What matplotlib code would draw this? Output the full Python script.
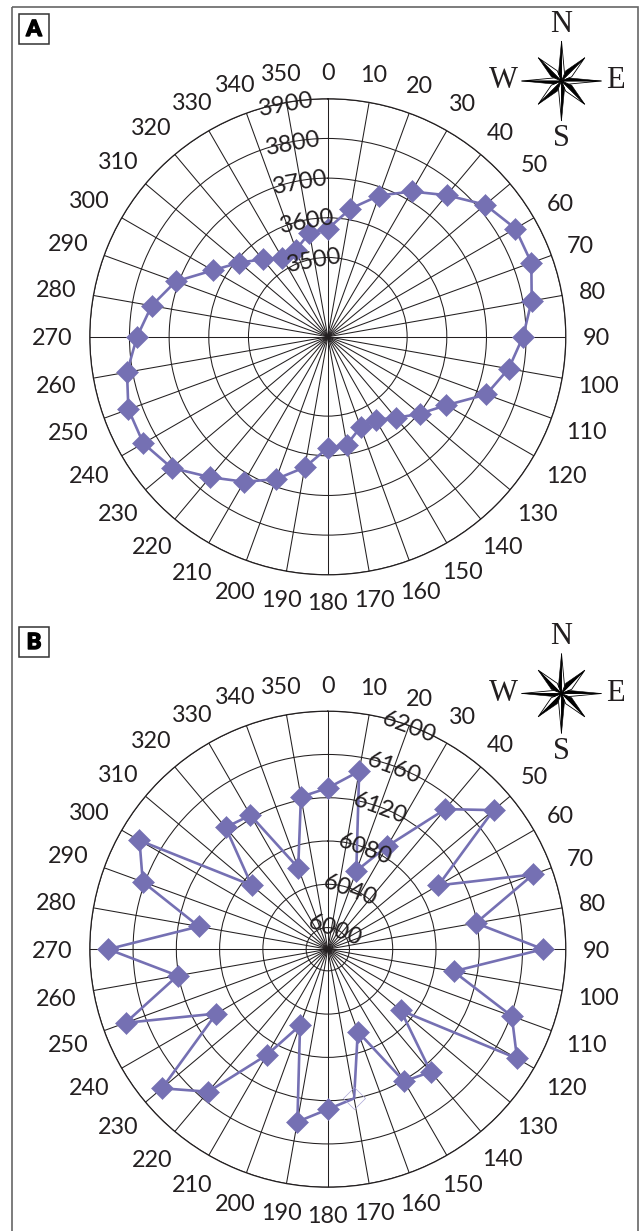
import numpy as np
import matplotlib
matplotlib.use("Agg")
import matplotlib.pyplot as plt
import matplotlib.patheffects as pe
from matplotlib.patches import Rectangle, Polygon
from matplotlib.transforms import offset_copy

W, H = 639, 1231
plt.rcParams['font.family'] = ['Lato', 'DejaVu Sans']

angles = list(range(0, 360, 10))
values_a = [3572, 3628, 3679, 3723, 3766, 3818, 3846, 3846, 3822, 3792, 3763, 3725,
            3645, 3602, 3567, 3541, 3542, 3576, 3580, 3634, 3682, 3722, 3762, 3814,
            3837, 3835, 3814, 3781, 3751, 3708, 3635, 3591, 3555, 3530, 3534, 3566]
values_b = [6129, 6147, 6057, 6090, 6149, 6180, 6098, 6182, 6119, 6179, 6098, 6161,
            6182, 6068, 6128, 6121, 6061, 6120, 6128, 6142, 6055, 6093, 6152, 6180,
            6099, 6179, 6121, 6183, 6101, 6162, 6181, 6072, 6127, 6123, 6060, 6123]
ticks_a = [3500, 3600, 3700, 3800, 3900]
ticks_b = [6000, 6040, 6080, 6120, 6160, 6200]
hollow_b = [170]

LINE = '#7570b3'
INK = '#231f20'
R_PX = 238.0
# distance of each angle label from the centre, in pixels
LABEL_R = [265, 267, 268, 270, 268, 270, 269, 269, 269, 269, 275, 275,
           275, 274, 272, 270, 270, 266, 265, 266, 270, 271, 273, 274,
           275, 276, 276, 276, 276, 276, 275, 274, 274, 272, 270, 268]

fig = plt.figure(figsize=(W / 100, H / 100), dpi=100, facecolor='white')

# page overlay in pixel coordinates: frame, panel letters, compass roses
page = fig.add_axes([0, 0, 1, 1], zorder=0)
page.set_xlim(0, W)
page.set_ylim(H, 0)
page.axis('off')
page.add_patch(Rectangle((11.5, 7), 626.5, 1240, fill=False, ec='#666666', lw=1.2))


def compass(cy):
    cx = 561.5
    for i in range(8):
        a = np.deg2rad(i * 45)
        major = i % 2 == 0
        tip = 40 if major else 33
        inner = 8 if major else 11
        px = lambda r, t: (cx + r * np.sin(t), cy - r * np.cos(t))
        d = np.deg2rad(22.5)
        page.add_patch(Polygon([(cx, cy), px(tip, a), px(inner, a + d)],
                               fc='white', ec='black', lw=0.6, zorder=3 + major))
        page.add_patch(Polygon([(cx, cy), px(tip, a), px(inner, a - d)],
                               fc='black', ec='black', lw=0.4, zorder=3 + major))
    for s, x, y in [('N', cx, cy - 57), ('S', cx, cy + 58),
                    ('W', cx - 58, cy), ('E', cx + 53.5, cy)]:
        page.text(x, y, s, family='Liberation Serif', fontsize=22,
                  color=INK, ha='center', va='center')


def letter(s, top):
    page.add_patch(Rectangle((19, top), 30, 30, fc='white', ec='#333333', lw=1.1))
    page.text(34, top + 15.5, s, fontsize=16, weight='black', color='black',
              ha='center', va='center',
              path_effects=[pe.withStroke(linewidth=1.0, foreground='black')])


def panel(cy, values, ticks, rmin, rmax, tick_angle, tick_rot, hollow=()):
    rect = [(327.8 - R_PX) / W, (H - cy - R_PX) / H, 2 * R_PX / W, 2 * R_PX / H]
    ax = fig.add_axes(rect, projection='polar', zorder=2)
    ax.patch.set_alpha(0)
    ax.set_theta_zero_location('N')
    ax.set_theta_direction(-1)
    ax.set_rlim(rmin, rmax)
    ax.set_yticks(ticks)
    ax.set_xticks(np.deg2rad(angles))
    ax.tick_params(labelleft=False, labelbottom=False, length=0)
    ax.grid(True, color=INK, lw=0.75)
    ax.spines['polar'].set_color(INK)
    ax.spines['polar'].set_linewidth(0.9)

    th = np.deg2rad(angles)
    vals = np.array(values, dtype=float)
    ax.plot(np.append(th, th[0]), np.append(vals, vals[0]), color=LINE, lw=1.9,
            zorder=3, clip_on=False)
    solid = np.array([a not in hollow for a in angles])
    ax.plot(th[solid], vals[solid], ls='none', marker='D', ms=11.6, mfc=LINE, mec=LINE,
            mew=0.4, zorder=4, clip_on=False)
    if len(hollow):
        ax.plot(th[~solid], vals[~solid], ls='none', marker='D', ms=11.6, mfc='none',
                mec='#a9a6d6', mew=0.5, zorder=4)

    down = offset_copy(ax.transData, fig=fig, x=0, y=-2, units='dots')
    for t in ticks:
        ax.text(np.deg2rad(tick_angle), t, str(t), fontsize=17.2, color=INK,
                rotation=tick_rot, rotation_mode='anchor',
                ha='center', va='center', zorder=5, transform=down)
    for a, rp in zip(angles, LABEL_R):
        ax.text(np.deg2rad(a), rmin + rp / R_PX * (rmax - rmin), str(a), fontsize=16.8,
                color=INK, ha='center', va='center', clip_on=False, transform=down)


compass(81)
compass(693.5)
letter('A', 14)
letter('B', 627)
panel(336.8, values_a, ticks_a, 3300, 3900, 350, 10)
panel(949.2, values_b, ticks_b, 5980, 6200, 20, -20, hollow_b)

fig.savefig('out.png', dpi=100)
